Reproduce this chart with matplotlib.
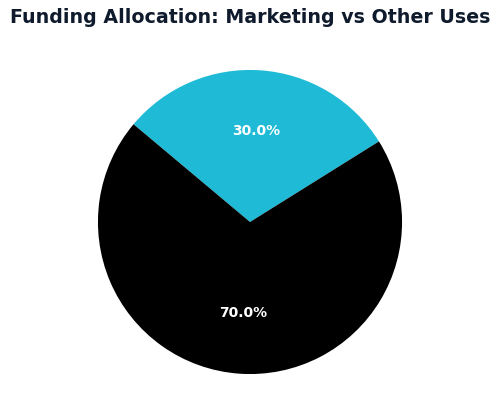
import matplotlib.pyplot as plt

# --- DATA ---
labels = ['Marketing', 'Other Uses']
shares = [30.0, 70.0]
colors = ['#1fbbd6', '#000000']

fig = plt.figure(figsize=(5, 4), dpi=100)
ax = fig.add_axes([0.05, 0.015, 0.9, 0.86])

wedges, texts, autotexts = ax.pie(
    shares,
    colors=colors,
    autopct='%1.1f%%',
    startangle=32,
    radius=1.105,
    pctdistance=0.6,
    textprops={'color': 'white', 'fontsize': 10, 'fontweight': 'bold'},
)
ax.set_xlim(-1.25, 1.25)
ax.set_ylim(-1.25, 1.25)
ax.set_aspect('equal')
fig.suptitle('Funding Allocation: Marketing vs Other Uses',
             fontsize=13.7, fontweight='bold', color='#0f1b2d', y=0.98)

fig.savefig('out.png')
